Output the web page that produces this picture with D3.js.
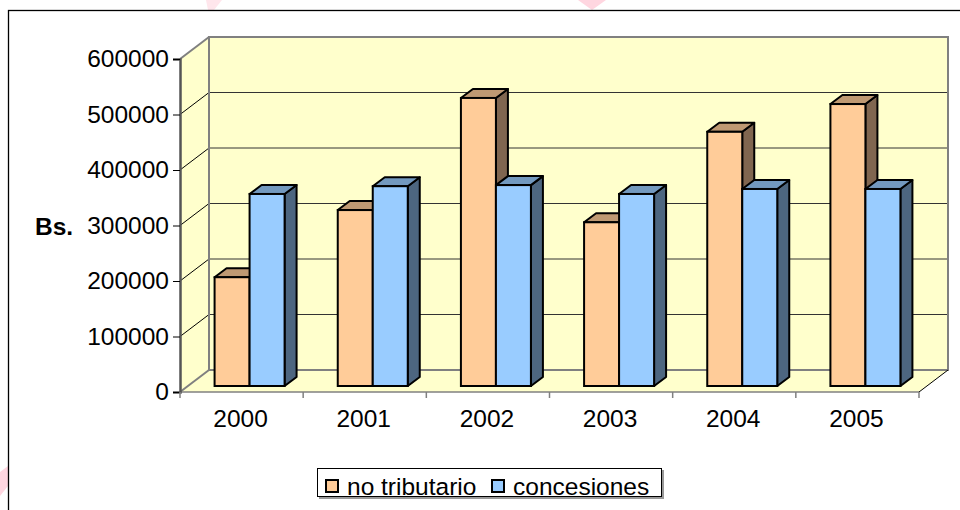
<!DOCTYPE html>
<html lang="es">
<head>
    <meta charset="UTF-8">
    <title>Bs. por año</title>
    <script src="https://cdn.jsdelivr.net/npm/d3@7/dist/d3.min.js"></script>
    <style>
        body { margin: 0; background: #fff; }
        text { font-family: "Liberation Sans", Arial, sans-serif; }
    </style>
</head>
<body>
    <script>

        //data
        var years = ['2000', '2001', '2002', '2003', '2004', '2005'];
        var seriesNames = ['no tributario', 'concesiones'];
        var noTributario = [196000, 317000, 519000, 295000, 458000, 508000];
        var concesiones = [346000, 360000, 362000, 346000, 355000, 355000];
        var yTicks = [0, 100000, 200000, 300000, 400000, 500000, 600000];

        //colours: front, top, side
        var colors = {
            'no tributario': ['#FFCC99', '#BF9973', '#806650'],
            'concesiones': ['#99CCFF', '#7399BF', '#4D6680']
        };

        var w = 960;
        var h = 510;
        var fontSize = '24.5px';

        //plot box (front plane) and 3d depth
        var x0 = 180, x1 = 919, yBottom = 392, yTop = 59;
        var depthX = 29, depthY = -22;
        var barOffX = 8, barOffY = -6;      // bars sit a bit behind the front plane
        var barDepthX = 12, barDepthY = -9;

        var svg = d3.select('body')
                    .append('svg')
                    .attr('width', w)
                    .attr('height', h);

        //faint pink watermark pieces
        var pink = '#FFD6E0';
        svg.append('polygon').attr('points', '578,0 606,0 592,10').attr('fill', pink);
        svg.append('polygon').attr('points', '206,0 222,0 214,10 208,10').attr('fill', '#FFE6EC');
        svg.append('polygon').attr('points', '0,472 8,466 8,486 0,496').attr('fill', pink);

        //outer border
        svg.append('rect')
            .attr('x', 8.5).attr('y', 10.5)
            .attr('width', 1000).attr('height', 600)
            .attr('fill', 'none')
            .attr('stroke', '#000')
            .attr('stroke-width', 1.3);

        var x = d3.scaleBand().domain(years).range([x0, x1]);
        var xs = d3.scaleBand().domain(seriesNames).range([0, 70]);
        var y = d3.scaleLinear().domain([0, 600000]).range([yBottom, yTop]);

        var wallFill = '#FFFFCC';
        var wallLine = '#808080';

        //back wall
        svg.append('rect')
            .attr('x', x0 + depthX).attr('y', yTop + depthY)
            .attr('width', x1 - x0).attr('height', yBottom - yTop)
            .attr('fill', wallFill);

        //left wall
        svg.append('polygon')
            .attr('points', [[x0, yTop], [x0 + depthX, yTop + depthY], [x0 + depthX, yBottom + depthY], [x0, yBottom]].join(' '))
            .attr('fill', wallFill);

        //floor
        svg.append('polygon')
            .attr('points', [[x0, yBottom], [x0 + depthX, yBottom + depthY], [x1 + depthX, yBottom + depthY], [x1, yBottom]].join(' '))
            .attr('fill', wallFill);

        //gridlines on back wall and left wall
        var grid = yTicks.filter(function(d) { return d > 0 && d < 600000; });
        svg.selectAll('.grid-back')
            .data(grid)
            .enter()
            .append('line')
            .attr('x1', x0 + depthX).attr('x2', x1 + depthX)
            .attr('y1', function(d) { return y(d) + depthY; })
            .attr('y2', function(d) { return y(d) + depthY; })
            .attr('stroke', '#333')
            .attr('stroke-width', 1);
        svg.selectAll('.grid-side')
            .data(grid)
            .enter()
            .append('line')
            .attr('x1', x0).attr('x2', x0 + depthX)
            .attr('y1', function(d) { return y(d); })
            .attr('y2', function(d) { return y(d) + depthY; })
            .attr('stroke', '#000')
            .attr('stroke-width', 1);

        //wall borders
        svg.append('rect')
            .attr('x', x0 + depthX).attr('y', yTop + depthY)
            .attr('width', x1 - x0).attr('height', yBottom - yTop)
            .attr('fill', 'none')
            .attr('stroke', wallLine)
            .attr('stroke-width', 2);
        svg.append('line')
            .attr('x1', x0).attr('y1', yTop)
            .attr('x2', x0 + depthX).attr('y2', yTop + depthY)
            .attr('stroke', wallLine).attr('stroke-width', 2);
        svg.append('line')
            .attr('x1', x0).attr('y1', yBottom)
            .attr('x2', x0 + depthX).attr('y2', yBottom + depthY)
            .attr('stroke', wallLine).attr('stroke-width', 2);
        svg.append('line')
            .attr('x1', x1).attr('y1', yBottom)
            .attr('x2', x1 + depthX).attr('y2', yBottom + depthY)
            .attr('stroke', '#000').attr('stroke-width', 1);
        svg.append('line')
            .attr('x1', x0).attr('y1', yBottom)
            .attr('x2', x1).attr('y2', yBottom)
            .attr('stroke', wallLine).attr('stroke-width', 1.5);

        //bars, drawn left to right so each bar covers the side of the previous one
        var bars = [];
        years.forEach(function(yr, i) {
            bars.push({ year: yr, series: 'no tributario', value: noTributario[i] });
            bars.push({ year: yr, series: 'concesiones', value: concesiones[i] });
        });

        var barW = xs.bandwidth();
        var g = svg.selectAll('.bar')
            .data(bars)
            .enter()
            .append('g')
            .attr('class', 'bar');

        function left(d) {
            return x(d.year) + x.bandwidth() / 2 - 35 + xs(d.series) + barOffX;
        }

        //side face
        g.append('polygon')
            .attr('points', function(d) {
                var l = left(d) + barW, t = y(d.value) + barOffY, b = y(0) + barOffY;
                return [[l, t], [l + barDepthX, t + barDepthY], [l + barDepthX, b + barDepthY], [l, b]].join(' ');
            })
            .attr('fill', function(d) { return colors[d.series][2]; })
            .attr('stroke', '#000')
            .attr('stroke-width', 2)
            .attr('stroke-linejoin', 'round');

        //top face
        g.append('polygon')
            .attr('points', function(d) {
                var l = left(d), t = y(d.value) + barOffY;
                return [[l, t], [l + barDepthX, t + barDepthY], [l + barW + barDepthX, t + barDepthY], [l + barW, t]].join(' ');
            })
            .attr('fill', function(d) { return colors[d.series][1]; })
            .attr('stroke', '#000')
            .attr('stroke-width', 2)
            .attr('stroke-linejoin', 'round');

        //front face
        g.append('rect')
            .attr('x', function(d) { return left(d); })
            .attr('y', function(d) { return y(d.value) + barOffY; })
            .attr('width', barW)
            .attr('height', function(d) { return y(0) - y(d.value); })
            .attr('fill', function(d) { return colors[d.series][0]; })
            .attr('stroke', '#000')
            .attr('stroke-width', 2);

        //y axis
        var yAxis = d3.axisLeft(y)
            .tickValues(yTicks)
            .tickSize(7)
            .tickPadding(4)
            .tickFormat(function(d) { return d; });
        var ya = svg.append('g')
            .attr('transform', 'translate(' + x0 + ',0)')
            .call(yAxis);
        ya.select('.domain').attr('stroke', '#555').attr('stroke-width', 2.5);
        ya.selectAll('.tick line').attr('stroke', '#000');
        ya.selectAll('.tick text')
            .attr('font-size', fontSize)
            .attr('fill', '#000')
            .attr('font-family', '"Liberation Sans", Arial, sans-serif');

        //x axis ticks at category boundaries
        var bounds = years.map(function(d) { return x(d); }).concat([x1]);
        svg.selectAll('.xtick')
            .data(bounds)
            .enter()
            .append('line')
            .attr('x1', function(d) { return d; })
            .attr('x2', function(d) { return d; })
            .attr('y1', yBottom)
            .attr('y2', yBottom + 6)
            .attr('stroke', wallLine)
            .attr('stroke-width', 1.5);

        svg.selectAll('.xlabel')
            .data(years)
            .enter()
            .append('text')
            .text(function(d) { return d; })
            .attr('x', function(d) { return x(d) + x.bandwidth() / 2 - 1; })
            .attr('y', 427)
            .attr('text-anchor', 'middle')
            .attr('font-size', fontSize);

        //axis title
        svg.append('text')
            .text('Bs.')
            .attr('x', 35)
            .attr('y', 235)
            .attr('font-size', fontSize)
            .attr('font-weight', 'bold');

        //legend
        var lg = svg.append('g');
        lg.append('rect')
            .attr('x', 319).attr('y', 470)
            .attr('width', 345).attr('height', 29)
            .attr('fill', '#999');
        lg.append('rect')
            .attr('x', 317.5).attr('y', 468.5)
            .attr('width', 344).attr('height', 28)
            .attr('fill', '#fff')
            .attr('stroke', '#000')
            .attr('stroke-width', 1);
        var legendX = [326, 492];
        var items = lg.selectAll('.item')
            .data(seriesNames)
            .enter()
            .append('g')
            .attr('transform', function(d, i) { return 'translate(' + legendX[i] + ',0)'; });
        items.append('rect')
            .attr('x', 0).attr('y', 480)
            .attr('width', 12).attr('height', 12)
            .attr('fill', function(d) { return colors[d][0]; })
            .attr('stroke', '#000')
            .attr('stroke-width', 2);
        items.append('text')
            .text(function(d) { return d; })
            .attr('x', 21)
            .attr('y', 494.5)
            .attr('font-size', fontSize);

    </script>
</body>
</html>
